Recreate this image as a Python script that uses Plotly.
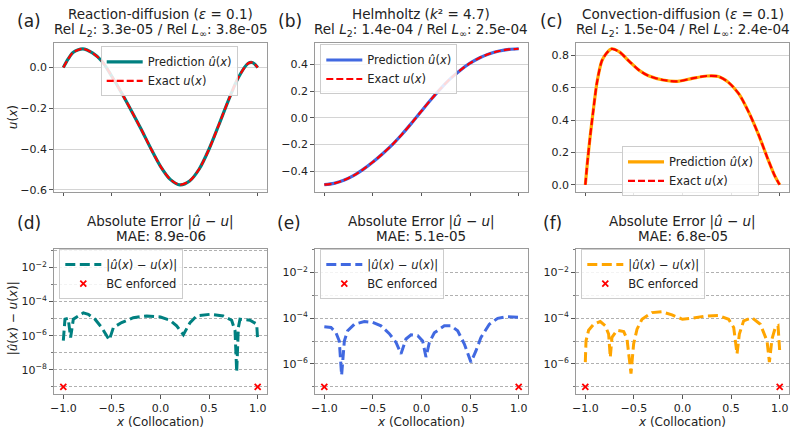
import plotly.graph_objects as go

W, H = 797, 433

# ---------------- data ----------------
# (a) Reaction-diffusion
x_rd = [-1.0, -0.95, -0.9, -0.8, -0.7, -0.6, -0.5, -0.4, -0.3, -0.2, -0.1, 0.0,
        0.1, 0.2, 0.3, 0.4, 0.5, 0.6, 0.7, 0.8, 0.9, 0.95, 1.0]
u_rd = [0.000, 0.042, 0.074, 0.092, 0.072, 0.030, -0.044, -0.125, -0.212, -0.302,
        -0.397, -0.485, -0.549, -0.576, -0.557, -0.497, -0.400, -0.282, -0.160,
        -0.050, 0.020, 0.024, 0.000]
uhat_rd = list(u_rd)

# (b) Helmholtz
x_hh = [-1.0, -0.9, -0.8, -0.7, -0.6, -0.5, -0.4, -0.3, -0.2, -0.1, 0.0,
        0.1, 0.2, 0.3, 0.4, 0.5, 0.6, 0.7, 0.8, 0.9, 1.0]
u_hh = [-0.500, -0.490, -0.467, -0.432, -0.385, -0.330, -0.268, -0.200, -0.122,
        -0.037, 0.052, 0.140, 0.222, 0.296, 0.358, 0.410, 0.451, 0.481, 0.501,
        0.513, 0.518]
uhat_hh = list(u_hh)

# (c) Convection-diffusion
x_cd = [-1.0, -0.98, -0.95, -0.92, -0.88, -0.83, -0.78, -0.73, -0.65, -0.55,
        -0.45, -0.35, -0.2, -0.05, 0.1, 0.25, 0.37, 0.47, 0.58, 0.68, 0.78,
        0.88, 0.95, 1.0]
u_cd = [0.0, 0.13, 0.30, 0.45, 0.633, 0.766, 0.815, 0.841, 0.822, 0.765, 0.710,
        0.674, 0.648, 0.640, 0.658, 0.673, 0.670, 0.635, 0.562, 0.451, 0.314,
        0.157, 0.055, 0.0]
uhat_cd = list(u_cd)

# (d) error, reaction-diffusion
xe_rd = [-1.0, -0.983, -0.95, -0.925, -0.897, -0.846, -0.794, -0.743, -0.674,
         -0.605, -0.527, -0.485, -0.4, -0.28, -0.142, 0.0, 0.098, 0.166, 0.235,
         0.304, 0.372, 0.509, 0.646, 0.732, 0.767, 0.784, 0.801, 0.818, 0.921,
         0.99, 1.0]
err_rd = [5.1e-7, 9.3e-6, 1.05e-5, 7.9e-7, 9.3e-6, 1.45e-5, 2.2e-5, 1.8e-5,
          9.3e-6, 3.0e-6, 5.6e-7, 3.0e-6, 5.9e-6, 1.15e-5, 1.45e-5, 1.26e-5,
          8.1e-6, 3.8e-6, 1.15e-6, 5.9e-6, 1.45e-5, 1.8e-5, 1.45e-5, 8.1e-6,
          1.95e-6, 7.4e-9, 3.0e-6, 9.3e-6, 8.1e-6, 4.8e-6, 5.1e-7]

# (e) error, Helmholtz
xe_hh = [-1.0, -0.931, -0.88, -0.846, -0.822, -0.794, -0.76, -0.691, -0.588,
         -0.503, -0.417, -0.331, -0.262, -0.211, -0.16, -0.108, -0.039, 0.012,
         0.046, 0.081, 0.132, 0.235, 0.304, 0.372, 0.441, 0.509, 0.561, 0.612,
         0.698, 0.784, 0.87, 0.955, 1.0]
err_hh = [4.2e-5, 3.9e-5, 2.3e-5, 1.0e-5, 3.2e-7, 1.0e-5, 2.8e-5, 5.4e-5, 7.1e-5,
          6.5e-5, 4.6e-5, 2.1e-5, 8.7e-6, 2.75e-6, 1.23e-5, 1.86e-5, 1.7e-5,
          1.0e-5, 2.0e-6, 8.7e-6, 2.3e-5, 4.6e-5, 4.6e-5, 2.8e-5, 7.4e-6, 1.2e-6,
          3.8e-6, 1.45e-5, 5.4e-5, 9.8e-5, 1.15e-4, 1.12e-4, 1.1e-4]

# (f) error, convection-diffusion
xe_cd = [-1.0, -0.993, -0.966, -0.914, -0.846, -0.794, -0.76, -0.743, -0.726,
         -0.674, -0.605, -0.571, -0.53, -0.503, -0.468, -0.417, -0.314, -0.211,
         -0.108, 0.0, 0.098, 0.235, 0.372, 0.475, 0.527, 0.561, 0.585, 0.629,
         0.715, 0.801, 0.87, 0.894, 0.921, 0.955, 0.983, 1.0]
err_cd = [1.2e-6, 1.0e-5, 2.95e-5, 5.4e-5, 7.1e-5, 4.6e-5, 2.0e-5, 1.95e-6,
          1.45e-5, 2.95e-5, 2.6e-5, 1.23e-5, 3.8e-7, 7.4e-6, 3.3e-5, 8.9e-5,
          1.74e-4, 1.9e-4, 1.38e-4, 8.9e-5, 9.8e-5, 1.23e-4, 1.29e-4, 8.9e-5,
          3.9e-5, 2.75e-6, 2.0e-5, 7.6e-5, 1.05e-4, 5.4e-5, 1.0e-5, 1.2e-6,
          1.23e-5, 3.9e-5, 4.6e-5, 3.8e-6]

bc_x = [-1.0, 1.0]
bc_rd = [1e-9, 1e-9]
bc_hh = [1e-7, 1e-7]
bc_cd = [1e-7, 1e-7]

major_decades = [-8, -6, -4, -2]
minor_decades = [-9, -7, -5, -3, -1]

colors = ["#008080", "#4169e1", "#ffa500"]
titles1 = ["Reaction-diffusion (<i>ε</i> = 0.1)", "Helmholtz (<i>k</i>² = 4.7)",
           "Convection-diffusion (<i>ε</i> = 0.1)"]
titles2 = ["Rel <i>L</i><sub>2</sub>: 3.3e-05 / Rel <i>L</i><sub>∞</sub>: 3.8e-05",
           "Rel <i>L</i><sub>2</sub>: 1.4e-04 / Rel <i>L</i><sub>∞</sub>: 2.5e-04",
           "Rel <i>L</i><sub>2</sub>: 1.5e-04 / Rel <i>L</i><sub>∞</sub>: 2.4e-04"]
mae = ["MAE: 8.9e-06", "MAE: 5.1e-05", "MAE: 6.8e-05"]
panel_top = ["(a)", "(b)", "(c)"]
panel_bot = ["(d)", "(e)", "(f)"]

# ---------------- layout geometry (pixels) ----------------
col_px = [(53.6, 267.4), (314.6, 528.4), (575.6, 789.4)]
top_px = (43, 194)
bot_px = (252, 399)

def xd(a, b):
    return [a / W, b / W]

def yd(t, b):
    return [1 - b / H, 1 - t / H]

FONT = "DejaVu Sans"
TXT = "#222222"
SPINE = "#9a9a9a"

fig = go.Figure()

top_sets = [(x_rd, uhat_rd, u_rd), (x_hh, uhat_hh, u_hh), (x_cd, uhat_cd, u_cd)]
err_sets = [(xe_rd, err_rd, bc_rd), (xe_hh, err_hh, bc_hh), (xe_cd, err_cd, bc_cd)]
yr_top = [[-0.610, 0.123], [-0.553, 0.565], [-0.043, 0.880]]
yr_bot = [[-9.445, -0.915], [-7.33, -0.986], [-7.33, -0.986]]
leg_top = [(100.7, 47), (320.3, 45), (622, 148)]
leg_bot = [(59.3, 252), (320.3, 252), (581.3, 252)]

layout = dict(
    width=W, height=H, margin=dict(l=0, r=0, t=0, b=0),
    paper_bgcolor="white", plot_bgcolor="white",
    font=dict(family=FONT, size=11, color=TXT),
    showlegend=True,
)

annotations = []

def legend_style(lx, ly):
    return dict(x=lx / W, y=1 - ly / H, xanchor="left", yanchor="top",
                bgcolor="rgba(255,255,255,0.85)", bordercolor="#cccccc", borderwidth=1,
                font=dict(size=11.5, color=TXT), tracegroupgap=0, itemwidth=36)

for i in range(3):
    # top row
    ax_n = i + 1
    xs, uh, ue = top_sets[i]
    lg = "legend" if i == 0 else f"legend{i + 1}"
    xa = "x" if ax_n == 1 else f"x{ax_n}"
    ya = "y" if ax_n == 1 else f"y{ax_n}"
    fig.add_trace(go.Scatter(x=xs, y=uh, mode="lines", name="Prediction <i>û</i>(<i>x</i>)",
                             line=dict(color=colors[i], width=3.2, shape="spline", smoothing=0.8),
                             xaxis=xa, yaxis=ya, legend=lg))
    fig.add_trace(go.Scatter(x=xs, y=ue, mode="lines", name="Exact <i>u</i>(<i>x</i>)",
                             line=dict(color="red", width=2.2, dash="7px,3px", shape="spline", smoothing=0.8),
                             xaxis=xa, yaxis=ya, legend=lg))
    layout[lg] = legend_style(*leg_top[i])
    xkey = "xaxis" if ax_n == 1 else f"xaxis{ax_n}"
    ykey = "yaxis" if ax_n == 1 else f"yaxis{ax_n}"
    layout[xkey] = dict(domain=xd(*col_px[i]), anchor=ya, range=[-1.1, 1.1],
                        dtick=0.5, tick0=0, showticklabels=False, ticks="outside",
                        ticklen=3.5, tickcolor="#555", showgrid=False, zeroline=False,
                        showline=True, mirror=True, linecolor=SPINE, linewidth=1)
    layout[ykey] = dict(domain=yd(*top_px), anchor=xa, range=yr_top[i],
                        dtick=0.2, tick0=0, tickformat=".1f", ticks="outside",
                        ticklen=3.5, tickcolor="#555", showgrid=True,
                        gridcolor="#d4d4d4", gridwidth=1, zeroline=False,
                        showline=True, mirror=True, linecolor=SPINE, linewidth=1,
                        tickfont=dict(size=11, color=TXT))

    # bottom row
    ax_n = i + 4
    xs, er, bc = err_sets[i]
    lg = f"legend{i + 4}"
    xa = f"x{ax_n}"
    ya = f"y{ax_n}"
    fig.add_trace(go.Scatter(x=xs, y=er, mode="lines",
                             name="|<i>û</i>(<i>x</i>) − <i>u</i>(<i>x</i>)|",
                             line=dict(color=colors[i], width=3, dash="10px,4.5px"),
                             xaxis=xa, yaxis=ya, legend=lg))
    fig.add_trace(go.Scatter(x=bc_x, y=bc, mode="markers", name="BC enforced",
                             marker=dict(symbol="x-thin", size=6, color="red",
                                         line=dict(color="red", width=1.8)),
                             xaxis=xa, yaxis=ya, legend=lg))
    layout[lg] = legend_style(*leg_bot[i])
    lo, hi = yr_bot[i]
    tv = [10.0 ** d for d in major_decades]
    tt = [f"10<sup>−{-d}</sup>" for d in major_decades]
    mv = [10.0 ** d for d in minor_decades]
    layout[f"xaxis{ax_n}"] = dict(domain=xd(*col_px[i]), anchor=ya, range=[-1.1, 1.1],
                                  dtick=0.5, tick0=0, tickformat=".1f", ticks="outside",
                                  ticklen=3.5, tickcolor="#555", showgrid=False, zeroline=False,
                                  showline=True, mirror=True, linecolor=SPINE, linewidth=1,
                                  tickfont=dict(size=11, color=TXT), automargin=False,
                                  title=dict(text="<i>x</i> (Collocation)", standoff=1,
                                             font=dict(size=12, color=TXT)))
    layout[f"yaxis{ax_n}"] = dict(domain=yd(*bot_px), anchor=xa, type="log", range=[lo, hi],
                                  tickvals=tv, ticktext=tt, ticks="outside", ticklen=3.5,
                                  tickcolor="#555", showgrid=True, gridcolor="#b0b0b0",
                                  gridwidth=0.8, griddash="3px,2px", zeroline=False,
                                  showline=True, mirror=True, linecolor=SPINE, linewidth=1,
                                  tickfont=dict(size=11, color=TXT),
                                  minor=dict(tickvals=mv, ticks="outside", ticklen=2,
                                             tickcolor="#777", showgrid=True,
                                             gridcolor="#b0b0b0", gridwidth=0.8,
                                             griddash="3px,2px"))

    cx = (col_px[i][0] + col_px[i][1]) / 2
    annotations += [
        dict(text=titles1[i], x=cx / W, y=1 - 14 / H, xref="paper", yref="paper",
             showarrow=False, xanchor="center", yanchor="middle", font=dict(size=13.5, color=TXT)),
        dict(text=titles2[i], x=cx / W, y=1 - 30 / H, xref="paper", yref="paper",
             showarrow=False, xanchor="center", yanchor="middle", font=dict(size=13.5, color=TXT)),
        dict(text="Absolute Error |<i>û</i> − <i>u</i>|", x=cx / W, y=1 - 224 / H,
             xref="paper", yref="paper", showarrow=False, xanchor="center",
             yanchor="middle", font=dict(size=13.5, color=TXT)),
        dict(text=mae[i], x=cx / W, y=1 - 239 / H, xref="paper", yref="paper",
             showarrow=False, xanchor="center", yanchor="middle", font=dict(size=13.5, color=TXT)),
    ]

panel_x_top = [15, 276, 538]
panel_x_bot = [15, 275, 541]
for i in range(3):
    annotations.append(dict(text=panel_top[i], x=panel_x_top[i] / W, y=1 - 21 / H,
                            xref="paper", yref="paper", showarrow=False, xanchor="left",
                            yanchor="middle", font=dict(size=17, color=TXT)))
    annotations.append(dict(text=panel_bot[i], x=panel_x_bot[i] / W, y=1 - 226 / H,
                            xref="paper", yref="paper", showarrow=False, xanchor="left",
                            yanchor="middle", font=dict(size=17, color=TXT)))

annotations.append(dict(text="<i>u</i>(<i>x</i>)", x=13 / W, y=1 - 118.5 / H, xref="paper",
                        yref="paper", showarrow=False, textangle=-90, xanchor="center",
                        yanchor="middle", font=dict(size=12, color=TXT)))
annotations.append(dict(text="|<i>û</i>(<i>x</i>) − <i>u</i>(<i>x</i>)|", x=13 / W,
                        y=1 - 322 / H, xref="paper", yref="paper", showarrow=False,
                        textangle=-90, xanchor="center", yanchor="middle",
                        font=dict(size=12, color=TXT)))

layout["annotations"] = annotations
fig.update_layout(**layout)
fig.write_html("out.html")
